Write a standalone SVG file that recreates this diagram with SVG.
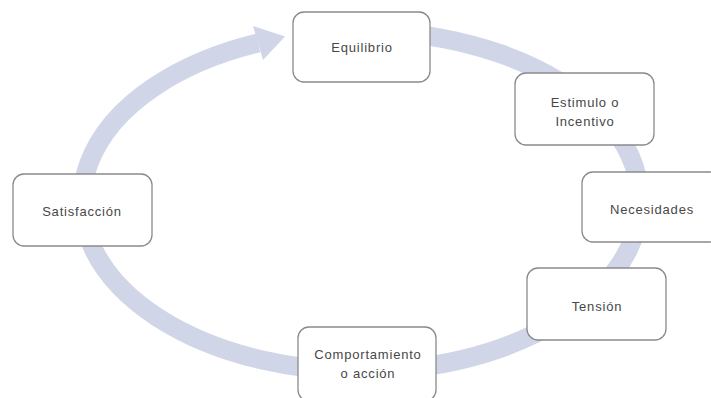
<svg xmlns="http://www.w3.org/2000/svg" width="711" height="398" viewBox="0 0 711 398">
<style>
.box{fill:#ffffff;stroke:#8a8a8a;stroke-width:1.3}
.lbl{font-family:"Liberation Sans",Arial,sans-serif;font-size:13px;letter-spacing:0.8px;fill:#474747;text-anchor:middle}
.ring{fill:none;stroke:#d0d6e8;stroke-width:19}
</style>
<rect width="711" height="398" fill="#ffffff"/>
<g id="connectors">
<path class="ring" d="M380,31.4 A279,170 0 1 1 258,43"/>
<polygon points="253,26 263,60 285,36.5" fill="#d0d6e8"/>
</g>
<g id="equilibrio">
<rect class="box" x="293" y="12" width="137" height="70" rx="11"/>
<text class="lbl" x="362" y="52">Equilibrio</text>
</g>
<g id="estimulo">
<rect class="box" x="515" y="73" width="139" height="72" rx="11"/>
<text class="lbl" x="585" y="107">Estimulo o</text>
<text class="lbl" x="585" y="126">Incentivo</text>
</g>
<g id="necesidades">
<rect class="box" x="582" y="172" width="139" height="70" rx="11"/>
<text class="lbl" x="652" y="214">Necesidades</text>
</g>
<g id="tension">
<rect class="box" x="527" y="268" width="139" height="72" rx="11"/>
<text class="lbl" x="597" y="311">Tensión</text>
</g>
<g id="comportamiento">
<rect class="box" x="298" y="327" width="138" height="74" rx="11"/>
<text class="lbl" x="368" y="359">Comportamiento</text>
<text class="lbl" x="368" y="378">o acción</text>
</g>
<g id="satisfaccion">
<rect class="box" x="13" y="174" width="139" height="72" rx="11"/>
<text class="lbl" x="82" y="216">Satisfacción</text>
</g>
</svg>
